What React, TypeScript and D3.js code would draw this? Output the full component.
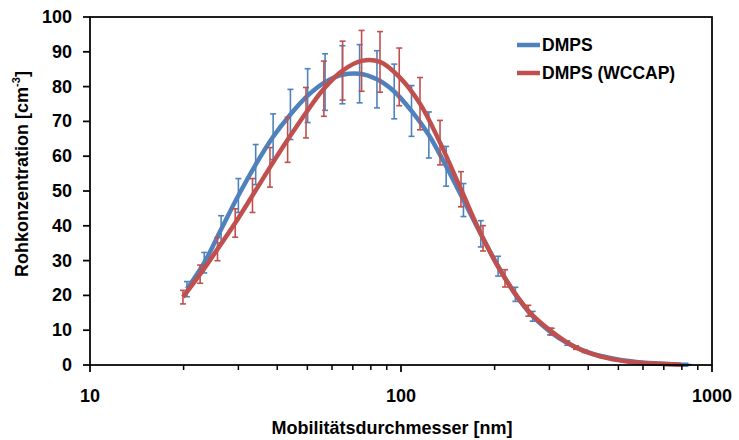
import React from "react";
import * as d3 from "d3";

// Diameters [nm] and raw concentrations [cm^-3]
const dmpsDiameter = [20.5, 23.3, 26.4, 30.0, 34.1, 38.8, 44.1, 50.1, 57.0, 64.8, 73.6, 83.7, 95.1, 108.1, 122.9, 139.7, 158.8, 180.5, 205.2, 233.2, 265.1, 301.3, 342.5, 389.4, 442.6, 503.1, 571.9, 650.1, 739.0, 840.0];
const dmpsValue = [21.8, 29.4, 39.0, 48.7, 57.6, 65.6, 72.0, 77.4, 81.3, 83.4, 83.7, 82.1, 78.6, 73.0, 66.1, 57.1, 47.4, 37.7, 28.4, 20.3, 14.0, 9.6, 6.3, 4.0, 2.5, 1.5, 0.9, 0.5, 0.25, 0.1];

const wccapDiameter = [19.9, 22.6, 25.7, 29.3, 33.3, 37.9, 43.2, 49.5, 56.5, 64.9, 74.7, 85.6, 98.7, 115.1, 133.5, 155.9, 183.5, 216.0, 256.7, 305.2, 365.3, 439.7, 533.0, 651.1, 794.8];
const wccapValue = [19.5, 26.1, 33.3, 40.8, 48.7, 56.8, 64.7, 72.5, 79.4, 84.6, 87.4, 87.1, 82.8, 75.1, 63.9, 50.5, 36.4, 24.9, 15.6, 9.6, 5.0, 2.4, 1.0, 0.4, 0.1];

// Excel percentage error bars
const errorPercent = 10;

const seriesNames = ["DMPS", "DMPS (WCCAP)"];
const seriesColors = ["#4F81BD", "#C0504D"];

const yTicks = [0, 10, 20, 30, 40, 50, 60, 70, 80, 90, 100];
const xMajorTicks = [10, 100, 1000];
const xMinorTicks = [20, 30, 40, 50, 60, 70, 80, 90, 200, 300, 400, 500, 600, 700, 800, 900];

const xTitle = "Mobilitätsdurchmesser [nm]";

const W = 739;
const H = 440;
const left = 90;
const right = 712;
const top = 17;
const bottom = 365;
const FONT = "'Liberation Sans', Arial, sans-serif";
const FS = 18;

export default function App() {
  const x = d3.scaleLog().domain([10, 1000]).range([left, right]);
  const y = d3.scaleLinear().domain([0, 100]).range([bottom, top]);

  const series = [
    { name: seriesNames[0], color: seriesColors[0], d: dmpsDiameter, v: dmpsValue },
    { name: seriesNames[1], color: seriesColors[1], d: wccapDiameter, v: wccapValue },
  ];

  const line = d3
    .line<[number, number]>()
    .x((p) => x(p[0]))
    .y((p) => y(p[1]))
    .curve(d3.curveCatmullRom.alpha(0.5));

  return (
    <svg
      width={W}
      height={H}
      style={{ position: "absolute", left: 0, top: 0, background: "#fff" }}
      fontFamily={FONT}
    >
      <rect x={0} y={0} width={W} height={H} fill="#fff" />

      {/* series */}
      {series.map((s, si) => {
        const pts: [number, number][] = s.d.map((dd, i) => [dd, s.v[i]]);
        return (
          <g key={si}>
            <path d={line(pts) || ""} fill="none" stroke={s.color} strokeWidth={4.5} strokeLinejoin="round" />
            {pts.map((p, i) => {
              const e = (p[1] * errorPercent) / 100;
              const cx = x(p[0]);
              const y1 = y(p[1] + e);
              const y2 = y(p[1] - e);
              return (
                <g key={i} stroke={s.color} strokeWidth={1.6}>
                  <line x1={cx} x2={cx} y1={y1} y2={y2} />
                  <line x1={cx - 3} x2={cx + 3} y1={y1} y2={y1} />
                  <line x1={cx - 3} x2={cx + 3} y1={y2} y2={y2} />
                </g>
              );
            })}
          </g>
        );
      })}

      {/* plot border */}
      <rect x={left} y={top} width={right - left} height={bottom - top} fill="none" stroke="#000" strokeWidth={1.75} />

      {/* y axis ticks */}
      {yTicks.map((t) => (
        <g key={t}>
          <line x1={left - 7} x2={left} y1={y(t)} y2={y(t)} stroke="#000" strokeWidth={1.75} />
          <text
            x={left - 18}
            y={y(t)}
            textAnchor="end"
            dominantBaseline="central"
            fontSize={FS}
            fontWeight="bold"
            fill="#000"
          >
            {t}
          </text>
        </g>
      ))}

      {/* x axis ticks */}
      {xMajorTicks.map((t) => (
        <g key={t}>
          <line x1={x(t)} x2={x(t)} y1={bottom} y2={bottom + 7} stroke="#000" strokeWidth={1.75} />
          <text
            x={x(t)}
            y={396}
            textAnchor="middle"
            dominantBaseline="central"
            fontSize={FS}
            fontWeight="bold"
            fill="#000"
          >
            {t}
          </text>
        </g>
      ))}
      {xMinorTicks.map((t) => (
        <line key={t} x1={x(t)} x2={x(t)} y1={bottom} y2={bottom + 5} stroke="#000" strokeWidth={1.5} />
      ))}

      {/* axis titles */}
      <text x={392} y={428} textAnchor="middle" dominantBaseline="central" fontSize={FS} fontWeight="bold" fill="#000">
        {xTitle}
      </text>
      <text
        transform={`translate(22, 174) rotate(-90)`}
        textAnchor="middle"
        dominantBaseline="central"
        fontSize={FS}
        fontWeight="bold"
        fill="#000"
      >
        Rohkonzentration [cm<tspan dy={-6} fontSize={11}>-3</tspan><tspan dy={6}>]</tspan>
      </text>

      {/* legend */}
      {series.map((s, i) => (
        <g key={i}>
          <line x1={517} x2={540} y1={45 + i * 28} y2={45 + i * 28} stroke={s.color} strokeWidth={4.5} />
          <text x={542} y={45 + i * 28} dominantBaseline="central" fontSize={17.5} fontWeight="bold" fill="#000">
            {s.name}
          </text>
        </g>
      ))}
    </svg>
  );
}
